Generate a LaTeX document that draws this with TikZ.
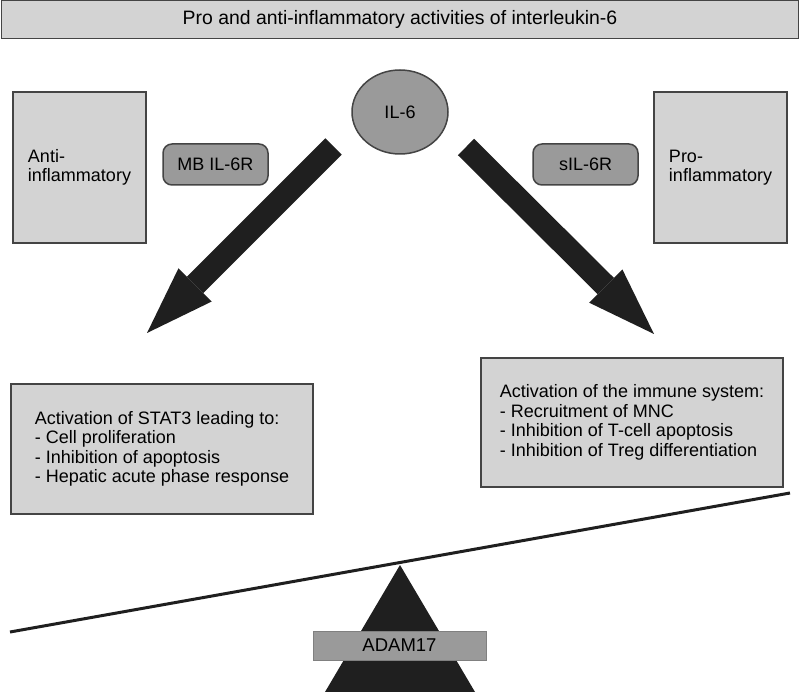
\documentclass[tikz,border=0pt]{standalone}
\usepackage{fontspec}
\setmainfont{Liberation Sans}
\usetikzlibrary{arrows.meta,shapes.geometric}

\definecolor{lightbox}{HTML}{D3D3D3}
\definecolor{midbox}{HTML}{9A9A9A}
\definecolor{darkfill}{HTML}{1F1F1F}
\definecolor{edgegray}{HTML}{444444}

\tikzset{
  panel/.style={draw=edgegray, line width=1.5pt, fill=lightbox, inner sep=0pt,
    align=left, font=\fontsize{18}{19.5}\selectfont},
  receptor/.style={draw=edgegray, line width=1.5pt, fill=midbox, rounded corners=9pt,
    minimum width=105pt, minimum height=41pt, font=\fontsize{18}{20}\selectfont},
  blockarrow/.style={darkfill, line width=23pt,
    -{Triangle[width=47pt,length=68pt,line width=0pt]}},
}

\begin{document}
\begin{tikzpicture}[x=1pt,y=-1pt]
\useasboundingbox (0,0) rectangle (800,692);

% title
\node[panel, minimum width=797pt, minimum height=38pt, font=\fontsize{19.4}{22}\selectfont] (title) at (400,19.5)
  {Pro and anti-inflammatory activities of interleukin-6};

\node[panel, minimum width=133pt, minimum height=151pt] (anti) at (79.5,167.5)
  {Anti-\\inflammatory};
\node[panel, minimum width=133pt, minimum height=151pt] (pro) at (720.5,167.5)
  {Pro-\\inflammatory};

\node[ellipse, draw=edgegray, line width=1.5pt, fill=midbox, minimum width=96pt,
  minimum height=84pt, font=\fontsize{18}{20}\selectfont] (il6) at (400,112) {IL-6};

\node[receptor] (mbr) at (215.5,164.5) {MB IL-6R};
\node[receptor] (sr) at (585.5,164.5) {sIL-6R};

% the two signalling arrows
\coordinate (lstart) at (333.5,146.5);
\coordinate (ltip) at (147,333);
\coordinate (rstart) at (466,147);
\coordinate (rtip) at (654,334);

\draw[blockarrow] (lstart) -- (ltip);
\draw[blockarrow] (rstart) -- (rtip);

\node[panel, minimum width=302pt, minimum height=130pt] (stat) at (162,449)
  {Activation of STAT3 leading to:\\- Cell proliferation\\- Inhibition of apoptosis\\- Hepatic acute phase response};
\node[panel, minimum width=302pt, minimum height=129pt] (immune) at (632,422.5)
  {Activation of the immune system:\\- Recruitment of MNC\\- Inhibition of T-cell apoptosis\\- Inhibition of Treg differentiation};

% balance
\coordinate (pivot) at (400,565);
\coordinate (beaml) at (10,632);
\coordinate (beamr) at (790,493);

\fill[darkfill] (pivot) -- (325,692) -- (475,692) -- cycle;
\draw[darkfill, line width=3pt] (beaml) -- (beamr);

\node[draw=gray, line width=1pt, fill=midbox, minimum width=173pt, minimum height=29pt,
  inner sep=0pt, font=\fontsize{18.5}{20}\selectfont] (adam) at (399.5,645.5) {ADAM17};

\end{tikzpicture}
\end{document}
